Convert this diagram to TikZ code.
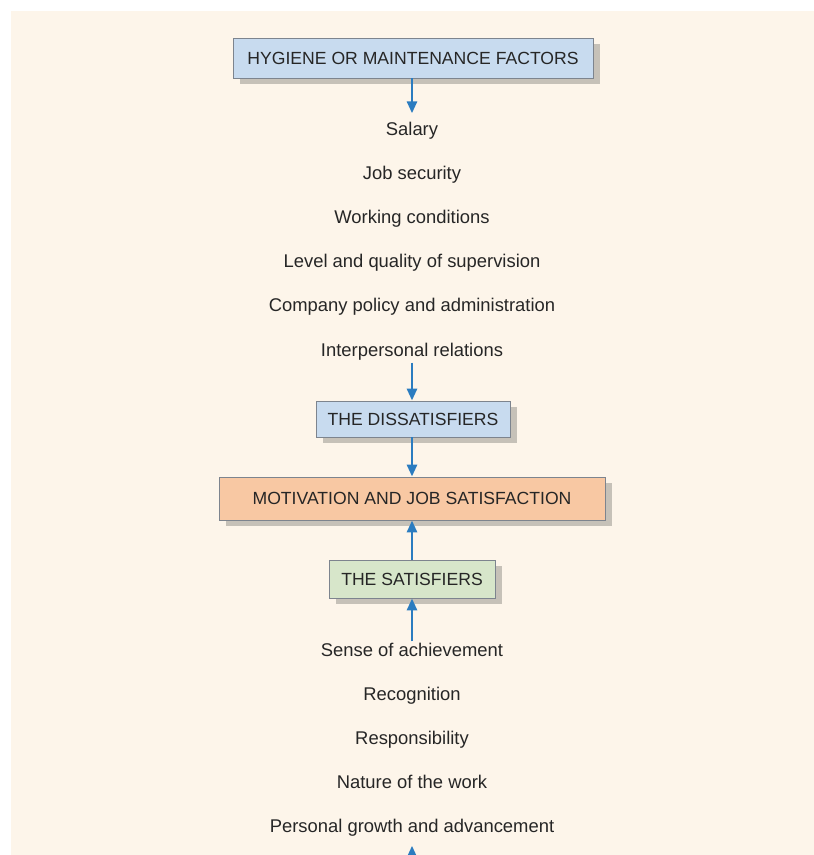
\documentclass[tikz,border=0pt]{standalone}
\usepackage{fontspec}
\setmainfont{Liberation Sans}
\usetikzlibrary{arrows.meta,shadows}
\definecolor{bgcream}{HTML}{FDF5EA}
\definecolor{boxblue}{HTML}{C8DBEF}
\definecolor{boxorange}{HTML}{F8C8A3}
\definecolor{boxgreen}{HTML}{D7E6CA}
\definecolor{boxline}{HTML}{7D848E}
\definecolor{arrowblue}{HTML}{2B7CC0}
\definecolor{txt}{HTML}{262626}
\definecolor{shadowgray}{HTML}{BDB8B0}
\tikzset{
  factor/.style={inner sep=0pt, text height=13pt, text depth=4pt, text=txt,
    font=\fontsize{18.4}{21}\selectfont},
  headbox/.style={draw=boxline, line width=0.9pt, inner sep=0pt, text=txt,
    font=\fontsize{17.6}{21}\selectfont,
    drop shadow={shadow xshift=7pt, shadow yshift=-6pt, fill=shadowgray, opacity=0.85}},
  flow/.style={draw=arrowblue, line width=2.8pt,
    -{Triangle[length=12pt,width=10pt]}},
}
\begin{document}
\begin{tikzpicture}[x=1pt,y=-1pt]
\clip (0,0) rectangle (814,855);
\fill[white] (0,0) rectangle (814,855);
\fill[bgcream] (11,11) rectangle (814,855);

\node[headbox, fill=boxblue, minimum width=360pt, minimum height=40pt] (hyg) at (413,58) {\raisebox{-1.5pt}{HYGIENE OR MAINTENANCE FACTORS}};

\node[factor] (sal) at (412,131) {Salary};
\node[factor] (job) at (412,175) {Job security};
\node[factor] (work) at (412,219) {Working conditions};
\node[factor] (sup) at (412,263) {Level and quality of supervision};
\node[factor] (pol) at (412,307) {Company policy and administration};
\node[factor] (inter) at (412,352) {Interpersonal relations};

\node[headbox, fill=boxblue, minimum width=194pt, minimum height=36pt] (dis) at (413,419) {\raisebox{-1.5pt}{THE DISSATISFIERS}};

\node[headbox, fill=boxorange, minimum width=386pt, minimum height=43pt] (mot) at (412,498.5) {\raisebox{-1.5pt}{MOTIVATION AND JOB SATISFACTION}};

\node[headbox, fill=boxgreen, minimum width=166pt, minimum height=38pt] (sat) at (412,579) {\raisebox{-1.5pt}{THE SATISFIERS}};

\node[factor] (ach) at (412,652) {Sense of achievement};
\node[factor] (rec) at (412,696) {Recognition};
\node[factor] (resp) at (412,740) {Responsibility};
\node[factor] (nat) at (412,784) {Nature of the work};
\node[factor] (grow) at (412,828) {Personal growth and advancement};

\coordinate (below) at (412,880);

\draw[flow, shorten >=9pt] (hyg.south -| sal.north) -- (sal.north);
\draw[flow, shorten <=2pt] (inter.south) -- (inter.south |- dis.north);
\draw[flow] (dis.south -| mot.north) -- (mot.north);
\draw[flow] (sat.north) -- (sat.north |- mot.south);
\draw[flow, shorten <=2pt] (ach.north) -- (ach.north |- sat.south);
\draw[flow, shorten >=9pt] (below) -- (grow.south);
\end{tikzpicture}
\end{document}
